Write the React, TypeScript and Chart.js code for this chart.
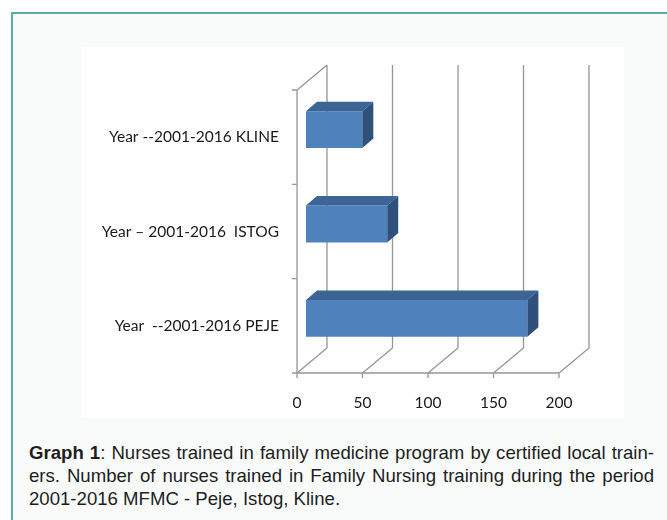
import React, { useEffect, useRef } from 'react';
import { Chart, registerables } from 'chart.js';

Chart.register(...registerables);

// ---- data ----
const categories = ['Year --2001-2016 KLINE', 'Year \u2013 2001-2016  ISTOG', 'Year  --2001-2016 PEJE'];
const nursesTrained = [43, 62, 169];
const xTickValues = [0, 50, 100, 150, 200];
const xMin = 0;
const xMax = 200;

// ---- 3D geometry (pixels) ----
const WALL_DX = 30;
const WALL_DY = -25;
const BAR_OX = 9;
const BAR_OY = -7.5;
const BAR_DX = 11;
const BAR_DY = -9.5;

const FRONT = '#4f81bd';
const TOP = '#3c6494';
const SIDE = '#2f507b';
const LINE = '#969696';
const TEXT = '#1a1a1a';

const threeD = {
  id: 'threeD',
  beforeDatasetsDraw(chart: any) {
    const { ctx, chartArea: a, scales } = chart;
    const x = scales.x;
    const y = scales.y;
    ctx.save();
    ctx.strokeStyle = LINE;
    ctx.lineWidth = 1.3;
    ctx.beginPath();
    xTickValues.forEach((v) => {
      const px = x.getPixelForValue(v);
      ctx.moveTo(px + WALL_DX, a.top + WALL_DY);
      ctx.lineTo(px + WALL_DX, a.bottom + WALL_DY);
      ctx.moveTo(px, a.bottom);
      ctx.lineTo(px + WALL_DX, a.bottom + WALL_DY);
      ctx.moveTo(px, a.bottom);
      ctx.lineTo(px, a.bottom + 5);
    });
    const x0 = x.getPixelForValue(xMin);
    const x1 = x.getPixelForValue(xMax);
    ctx.moveTo(x0, a.top);
    ctx.lineTo(x0, a.bottom);
    ctx.moveTo(x0, a.top);
    ctx.lineTo(x0 + WALL_DX, a.top + WALL_DY);
    ctx.moveTo(x0 - 5, a.bottom);
    ctx.lineTo(x1, a.bottom);
    for (let i = 0; i <= categories.length; i++) {
      const py = y.getPixelForValue(i - 0.5);
      ctx.moveTo(x0 - 5, py);
      ctx.lineTo(x0, py);
    }
    ctx.stroke();
    ctx.restore();
    ctx.save();
    ctx.translate(BAR_OX, BAR_OY);
  },
  afterDatasetsDraw(chart: any) {
    const { ctx } = chart;
    ctx.restore();
    const meta = chart.getDatasetMeta(0);
    meta.data.forEach((bar: any) => {
      const p = bar.getProps(['x', 'y', 'base', 'height'], true);
      const L = Math.min(p.base, p.x) + BAR_OX;
      const R = Math.max(p.base, p.x) + BAR_OX;
      const T = p.y - p.height / 2 + BAR_OY;
      const B = p.y + p.height / 2 + BAR_OY;
      ctx.save();
      ctx.fillStyle = TOP;
      ctx.beginPath();
      ctx.moveTo(L, T);
      ctx.lineTo(R, T);
      ctx.lineTo(R + BAR_DX, T + BAR_DY);
      ctx.lineTo(L + BAR_DX, T + BAR_DY);
      ctx.closePath();
      ctx.fill();
      ctx.fillStyle = SIDE;
      ctx.beginPath();
      ctx.moveTo(R, T);
      ctx.lineTo(R + BAR_DX, T + BAR_DY);
      ctx.lineTo(R + BAR_DX, B + BAR_DY);
      ctx.lineTo(R, B);
      ctx.closePath();
      ctx.fill();
      ctx.restore();
    });
  },
};

function ChartBox() {
  const ref = useRef<HTMLCanvasElement>(null);
  useEffect(() => {
    if (!ref.current) return;
    const chart = new Chart(ref.current, {
      type: 'bar',
      data: {
        labels: categories,
        datasets: [
          {
            data: nursesTrained,
            backgroundColor: FRONT,
            borderWidth: 0,
            barPercentage: 0.39,
            categoryPercentage: 1,
            clip: false as any,
          },
        ],
      },
      options: {
        indexAxis: 'y',
        responsive: false,
        animation: false,
        events: [],
        layout: { padding: { left: 0, right: 65, top: 43, bottom: 0 } },
        plugins: { legend: { display: false }, tooltip: { enabled: false } },
        scales: {
          x: {
            min: xMin,
            max: xMax,
            grid: { display: false, drawTicks: false },
            border: { display: false },
            ticks: {
              stepSize: 50,
              padding: 21,
              color: TEXT,
              font: { family: 'Lato, "Open Sans", sans-serif', size: 15.5 },
              maxRotation: 0,
            },
            afterFit: (s: any) => {
              s.height = 45;
            },
          },
          y: {
            grid: { display: false, drawTicks: false },
            border: { display: false },
            ticks: {
              padding: 18,
              color: TEXT,
              font: { family: 'Lato, "Open Sans", sans-serif', size: 15.5 },
            },
            afterFit: (s: any) => {
              s.width = 216;
            },
          },
        },
      },
      plugins: [threeD],
    });
    return () => chart.destroy();
  }, []);
  return <canvas ref={ref} width={543} height={371} style={{ display: 'block', width: 543, height: 371 }} />;
}

export default function App() {
  const lineStyle: React.CSSProperties = {
    textAlign: 'justify',
    textAlignLast: 'justify' as any,
    height: 23.3,
  };
  return (
    <div
      style={{
        position: 'fixed',
        left: 0,
        top: 0,
        width: 667,
        height: 520,
        overflow: 'hidden',
        background: '#ffffff',
      }}
    >
      <div
        style={{
          position: 'absolute',
          left: 11,
          top: 12,
          width: 720,
          height: 600,
          border: '2px solid #5fa9a7',
          background: '#f9fbfb',
        }}
      />
      <div style={{ position: 'absolute', left: 81, top: 47, width: 543, height: 371, background: '#ffffff' }}>
        <ChartBox />
      </div>
      <div
        style={{
          position: 'absolute',
          left: 29,
          top: 440.6,
          width: 625,
          fontFamily: '"Liberation Sans", Arial, sans-serif',
          fontSize: 18.6,
          lineHeight: '23.3px',
          color: '#1e1e1e',
        }}
      >
        <div style={lineStyle}>
          <b>Graph 1</b>: Nurses trained in family medicine program by certified local train-
        </div>
        <div style={lineStyle}>ers. Number of nurses trained in Family Nursing training during the period</div>
        <div style={{ height: 23.3 }}>2001-2016 MFMC - Peje, Istog, Kline.</div>
      </div>
    </div>
  );
}
